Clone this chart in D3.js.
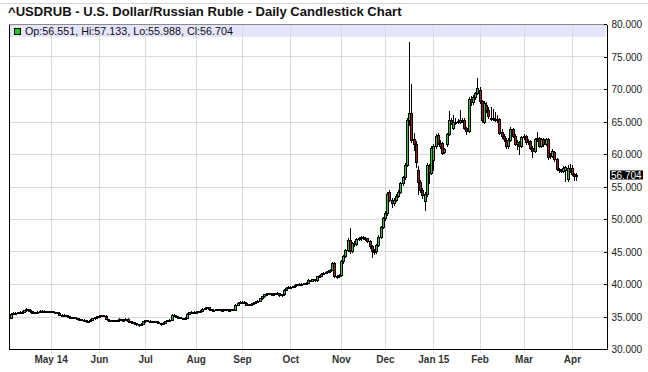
<!DOCTYPE html>
<html>
<head>
<meta charset="utf-8">
<script src="https://cdn.jsdelivr.net/npm/d3@7"></script>
<style>
  body { margin: 0; background: #fff; }
  #wrapper svg { display: block; font-family: "Liberation Sans", Arial, sans-serif; }
</style>
</head>
<body>
<div id="wrapper"></div>
<script>
// 1. Access data
const title = "^USDRUB - U.S. Dollar/Russian Ruble - Daily Candlestick Chart"
const firstDay = "2014-04-07"
const lastDay = "2015-04-03"
const holidays = ["2014-12-25", "2015-01-01"]

// one line per month: Apr 14 ... Apr 15
const opens = [
  34.80,35.45,35.50,35.55,35.62,35.70,35.76,35.95,36.10,35.90,35.62,35.66,35.60,35.75,35.88,35.92,35.80,35.74,
  35.80,35.78,35.70,35.62,35.60,35.30,35.25,35.18,35.10,35.00,34.92,34.85,34.78,34.66,34.60,34.50,34.42,34.30,34.28,34.52,34.72,34.90,
  35.02,35.12,35.20,35.14,34.62,34.45,34.40,34.42,34.38,34.40,34.62,34.50,34.45,34.65,34.25,34.20,34.10,33.95,33.80,33.70,33.90,
  34.25,34.40,34.35,34.30,34.28,34.30,34.22,34.00,33.90,34.05,34.30,34.40,34.50,35.25,35.10,34.95,34.90,34.78,34.75,34.82,35.45,35.62,35.70,
  35.72,35.75,35.80,35.90,36.20,36.35,36.40,36.10,36.00,36.05,36.10,36.08,36.02,36.05,36.10,36.06,36.02,36.08,36.05,36.80,37.15,
  37.25,37.30,37.10,36.80,36.90,37.00,37.10,37.25,37.40,37.80,38.10,38.40,38.50,38.55,38.45,38.50,38.55,38.60,38.30,38.40,39.10,39.45,
  39.50,39.55,39.62,39.90,39.95,40.05,40.00,40.12,40.20,40.60,40.50,40.75,40.55,41.20,41.25,41.60,41.70,41.85,42.00,42.20,43.20,41.30,41.20,
  41.40,43.50,44.30,45.20,46.80,45.00,46.30,46.20,46.90,47.00,47.20,47.10,47.00,46.60,45.80,45.10,45.00,46.00,47.30,48.80,
  50.10,50.90,54.10,53.00,52.40,53.00,53.60,54.20,55.50,56.40,58.30,65.20,66.30,62.30,61.60,57.60,55.70,54.40,52.70,53.90,58.10,57.10,
  59.10,61.20,62.90,61.70,61.70,60.30,61.50,63.10,65.30,64.00,65.00,64.90,65.00,65.30,65.30,64.00,63.60,68.50,68.00,68.70,69.40,
  69.80,68.10,65.00,67.60,66.80,65.60,65.50,65.40,65.30,65.40,63.40,62.70,62.10,61.20,62.20,63.80,62.80,61.60,61.80,61.30,
  62.60,62.70,61.80,62.00,61.00,60.50,62.30,62.40,61.30,62.30,61.55,62.30,59.90,59.70,60.30,59.20,57.70,57.50,57.40,57.60,56.10,57.90,
  57.90,56.90,56.551
]
const highs = [
  35.55,35.62,35.66,35.70,35.80,35.85,36.05,36.25,36.15,35.95,35.78,35.76,35.86,35.98,36.02,35.98,35.86,35.90,
  35.88,35.85,35.76,35.70,35.65,35.38,35.32,35.25,35.16,35.06,35.00,34.92,34.84,34.72,34.66,34.56,34.48,34.38,34.60,34.80,34.98,35.10,
  35.22,35.30,35.26,35.20,34.68,34.52,34.50,34.50,34.46,34.70,34.68,34.56,34.74,34.72,34.30,34.26,34.16,34.02,33.86,33.98,34.32,
  34.50,34.46,34.40,34.36,34.38,34.34,34.28,34.05,34.12,34.38,34.48,34.58,35.32,35.32,35.18,35.02,34.96,34.84,34.90,35.52,35.70,35.78,35.84,
  35.84,35.88,35.98,36.28,36.44,36.50,36.46,36.16,36.12,36.18,36.16,36.12,36.12,36.18,36.16,36.12,36.16,36.12,36.88,37.24,37.34,
  37.42,37.38,37.16,36.98,37.08,37.18,37.32,37.48,37.88,38.20,38.50,38.60,38.64,38.62,38.58,38.62,38.70,38.66,38.48,39.18,39.55,39.62,
  39.66,39.72,39.98,40.04,40.14,40.12,40.20,40.30,40.70,40.68,40.84,40.82,41.30,41.38,41.70,41.80,41.96,42.10,42.30,43.45,43.40,41.45,41.55,
  43.65,44.50,45.40,47.00,48.60,46.50,46.60,47.00,47.20,47.40,47.40,47.30,47.15,46.75,46.00,45.40,46.20,47.50,49.00,50.30,
  51.20,54.20,54.40,53.30,53.20,53.80,54.40,55.70,56.60,58.60,65.50,77.20,70.80,63.20,62.00,58.20,56.00,54.70,54.20,58.60,58.40,61.30,
  61.60,63.00,63.30,62.10,61.90,61.00,63.30,66.60,65.60,66.05,65.60,65.40,66.80,65.50,65.50,64.20,68.80,68.90,69.00,69.60,71.70,
  70.30,68.30,68.10,68.00,67.30,67.30,66.90,66.50,66.00,65.60,63.80,63.00,62.40,62.50,64.10,64.00,63.00,62.10,62.00,62.80,
  63.00,62.90,62.30,62.20,61.20,62.50,63.35,62.60,62.50,62.50,62.50,62.50,60.20,60.70,60.50,59.40,57.90,57.70,58.10,58.20,58.30,58.40,
  58.30,57.10,57.133
]
const lows = [
  34.70,35.38,35.42,35.48,35.55,35.62,35.68,35.88,35.85,35.55,35.55,35.52,35.55,35.68,35.78,35.72,35.66,35.68,
  35.70,35.64,35.55,35.52,35.24,35.18,35.10,35.02,34.92,34.86,34.78,34.70,34.58,34.52,34.42,34.34,34.22,34.18,34.24,34.46,34.66,34.84,
  34.95,35.05,35.06,34.55,34.38,34.33,34.34,34.30,34.32,34.34,34.44,34.38,34.40,34.18,34.12,34.04,33.88,33.72,33.60,33.66,33.84,
  34.18,34.28,34.24,34.20,34.18,34.14,33.95,33.62,33.84,34.00,34.24,34.34,34.44,35.02,34.88,34.84,34.70,34.66,34.70,34.76,35.38,35.56,35.62,
  35.66,35.70,35.74,35.86,36.14,36.28,36.04,35.94,35.96,36.00,36.02,35.96,35.98,36.00,36.00,35.96,35.98,35.98,36.00,36.74,37.08,
  37.18,37.04,36.72,36.74,36.84,36.92,37.04,37.18,37.34,37.72,38.02,38.32,38.42,38.38,38.38,38.42,38.48,38.22,38.22,38.34,39.02,39.38,
  39.42,39.48,39.56,39.82,39.88,39.92,39.94,40.04,40.14,40.40,40.44,40.48,40.50,41.10,41.18,41.52,41.62,41.78,41.92,42.12,41.10,41.00,41.10,
  41.25,43.30,44.10,45.10,44.70,44.90,45.90,46.00,46.70,46.80,46.90,46.80,46.40,45.60,44.20,44.60,44.80,45.80,47.10,48.60,
  49.90,50.60,52.80,51.90,52.20,52.80,53.40,54.00,55.30,56.20,58.10,64.50,61.80,60.60,58.00,53.90,54.10,53.30,51.40,53.60,55.50,56.90,
  57.60,61.00,61.50,61.00,60.00,60.10,61.30,62.90,64.60,63.80,64.60,64.70,64.80,64.90,63.90,63.00,63.40,67.60,67.70,68.40,69.20,
  67.90,65.00,64.80,66.50,65.60,65.30,65.20,65.10,65.00,63.00,62.40,62.00,60.90,61.00,62.00,62.60,61.40,60.80,60.00,61.10,
  62.30,61.60,61.50,60.80,59.50,60.30,62.00,61.10,61.10,61.30,61.40,59.30,59.40,59.50,59.00,57.50,57.30,57.20,57.20,55.90,55.90,57.30,
  56.80,56.00,55.988
]
const closes = [
  35.45,35.50,35.55,35.62,35.70,35.76,35.95,36.10,35.90,35.62,35.66,35.60,35.75,35.88,35.92,35.80,35.74,35.80,
  35.78,35.70,35.62,35.60,35.30,35.25,35.18,35.10,35.00,34.92,34.85,34.78,34.66,34.60,34.50,34.42,34.30,34.28,34.52,34.72,34.90,35.02,
  35.12,35.20,35.14,34.62,34.45,34.40,34.42,34.38,34.40,34.62,34.50,34.45,34.65,34.25,34.20,34.10,33.95,33.80,33.70,33.90,34.25,
  34.40,34.35,34.30,34.28,34.30,34.22,34.00,33.90,34.05,34.30,34.40,34.50,35.25,35.10,34.95,34.90,34.78,34.75,34.82,35.45,35.62,35.70,35.75,
  35.75,35.80,35.90,36.20,36.35,36.40,36.10,36.00,36.05,36.10,36.08,36.02,36.05,36.10,36.06,36.02,36.08,36.05,36.80,37.15,37.25,
  37.30,37.10,36.80,36.90,37.00,37.10,37.25,37.40,37.80,38.10,38.40,38.50,38.55,38.45,38.50,38.55,38.60,38.30,38.40,39.10,39.45,39.50,
  39.55,39.62,39.90,39.95,40.05,40.00,40.12,40.20,40.60,40.50,40.75,40.55,41.20,41.25,41.60,41.70,41.85,42.00,42.20,43.20,41.30,41.20,41.40,
  43.50,44.30,45.20,46.80,45.00,46.30,46.20,46.90,47.00,47.20,47.10,47.00,46.60,45.80,45.10,45.00,46.00,47.30,48.80,50.10,
  50.90,53.90,53.00,52.40,53.00,53.60,54.20,55.50,56.40,58.30,65.20,66.30,62.10,61.60,58.80,55.70,54.40,53.70,53.90,58.30,57.10,60.90,
  61.20,62.80,61.70,61.30,60.20,60.80,63.10,65.30,64.80,65.00,64.90,65.10,65.30,65.20,64.00,63.60,68.50,68.00,68.70,69.40,70.15,
  68.10,65.30,67.90,66.80,65.80,65.50,65.40,65.30,65.40,63.20,62.70,62.30,61.20,62.20,63.80,62.80,61.60,61.80,61.30,62.60,
  62.70,61.80,62.00,61.00,60.50,62.30,62.40,61.30,62.30,61.55,62.30,59.50,59.70,60.50,59.20,57.70,57.50,57.40,57.90,58.00,57.90,57.60,
  56.90,56.60,56.704
]

const yTicks = [30, 35, 40, 45, 50, 55, 60, 65, 70, 75, 80]
const tickDates = ["2014-05-01", "2014-06-02", "2014-07-01", "2014-08-01", "2014-09-01", "2014-10-01",
  "2014-11-03", "2014-12-01", "2015-01-02", "2015-02-02", "2015-03-02", "2015-04-01"]
const tickLabels = ["May 14", "Jun", "Jul", "Aug", "Sep", "Oct", "Nov", "Dec", "Jan 15", "Feb", "Mar", "Apr"]

// trading calendar: weekdays minus the two days with no quotes
const parseDay = d3.utcParse("%Y-%m-%d")
const formatDay = d3.utcFormat("%Y-%m-%d")
const tradingDays = d3.utcDay
  .range(parseDay(firstDay), d3.utcDay.offset(parseDay(lastDay), 1))
  .filter(d => d.getUTCDay() !== 0 && d.getUTCDay() !== 6)
  .filter(d => !holidays.includes(formatDay(d)))

const dataset = closes.map((c, i) => ({
  i,
  date: tradingDays[i],
  open: opens[i],
  high: highs[i],
  low: lows[i],
  close: c,
}))

const xAccessor = d => d.i
const upColor = "#33c433"
const downColor = "#9a1c1c"

// 2. Create chart dimensions
let dimensions = {
  width: 648,
  height: 372,
  plot: { left: 9, right: 606, top: 24, bottom: 349 },
}

// 3. Draw canvas
const wrapper = d3.select("#wrapper")
  .append("svg")
  .attr("width", dimensions.width)
  .attr("height", dimensions.height)

wrapper.append("rect")
  .attr("width", dimensions.width)
  .attr("height", dimensions.height)
  .attr("fill", "#fff")

wrapper.append("line")
  .attr("x1", 0).attr("x2", dimensions.width)
  .attr("y1", 3.5).attr("y2", 3.5)
  .attr("stroke", "#d4d4d4")

// 4. Create scales
const p = dimensions.plot
const xScale = d3.scaleLinear()
  .domain([-0.9, 270.5])
  .range([p.left, p.right])

const yScale = d3.scaleLinear()
  .domain([30, 80])
  .range([p.bottom, p.top])

const tickIndex = tickDates.map(t => tradingDays.findIndex(d => formatDay(d) === t))

// 5. Draw peripherals (background part)
wrapper.append("rect")
  .attr("x", p.left)
  .attr("y", p.top)
  .attr("width", p.right - p.left)
  .attr("height", 13)
  .attr("fill", "#e4e4fb")

const grid = wrapper.append("g")
  .attr("stroke", "#dadada")
  .attr("shape-rendering", "crispEdges")

grid.selectAll("line.h")
  .data(yTicks.filter(v => v > 30 && v < 80))
  .join("line")
  .attr("x1", p.left).attr("x2", p.right)
  .attr("y1", d => Math.round(yScale(d)) + 0.5)
  .attr("y2", d => Math.round(yScale(d)) + 0.5)

grid.selectAll("line.v")
  .data(tickIndex)
  .join("line")
  .attr("x1", d => Math.round(xScale(d)) + 0.5)
  .attr("x2", d => Math.round(xScale(d)) + 0.5)
  .attr("y1", p.top)
  .attr("y2", p.bottom + 4)

// 6. Draw data
const candles = wrapper.append("g")
  .attr("shape-rendering", "crispEdges")
  .selectAll("g")
  .data(dataset)
  .join("g")

const cx = d => Math.round(xScale(xAccessor(d)))

candles.append("line")
  .attr("x1", d => cx(d) + 0.5)
  .attr("x2", d => cx(d) + 0.5)
  .attr("y1", d => Math.round(yScale(d.high)))
  .attr("y2", d => Math.round(yScale(d.low)) + 1)
  .attr("stroke", "#000")

candles.append("rect")
  .attr("x", d => cx(d) - 0.5)
  .attr("y", d => Math.round(yScale(Math.max(d.open, d.close))) + 0.5)
  .attr("width", 2)
  .attr("height", d => Math.max(1,
    Math.round(yScale(Math.min(d.open, d.close))) - Math.round(yScale(Math.max(d.open, d.close)))))
  .attr("fill", d => d.close >= d.open ? upColor : downColor)
  .attr("stroke", "#000")

// 7. Frame, axes and texts
const frame = wrapper.append("g")
  .attr("stroke", "#000")
  .attr("shape-rendering", "crispEdges")
frame.append("line")
  .attr("x1", p.left + 0.5).attr("x2", p.left + 0.5)
  .attr("y1", p.top).attr("y2", p.bottom + 1)
frame.append("line")
  .attr("x1", p.left).attr("x2", p.right)
  .attr("y1", p.bottom + 0.5).attr("y2", p.bottom + 0.5)
frame.append("line")
  .attr("x1", p.left).attr("x2", p.right)
  .attr("y1", p.top + 0.5).attr("y2", p.top + 0.5)
  .attr("stroke", "#8a8a8a")

const yAxisGenerator = d3.axisRight(yScale)
  .tickValues(yTicks)
  .tickSizeInner(-3)
  .tickSizeOuter(0)
  .tickPadding(5)
  .tickFormat(d3.format(".3f"))

const yAxis = wrapper.append("g")
  .attr("transform", `translate(${p.right + 0.5},0)`)
  .call(yAxisGenerator)
yAxis.selectAll("path, line").attr("stroke", "#000").attr("shape-rendering", "crispEdges")
yAxis.selectAll("text")
  .attr("fill", "#222")
  .style("font-size", "10px")
  .attr("dy", "0.36em")

const xAxisGenerator = d3.axisBottom(xScale)
  .tickValues(tickIndex)
  .tickFormat((d, i) => tickLabels[i])
  .tickSize(0)
  .tickPadding(7)

const xAxis = wrapper.append("g")
  .attr("transform", `translate(0,${p.bottom})`)
  .call(xAxisGenerator)
xAxis.select(".domain").remove()
xAxis.selectAll("text")
  .attr("fill", "#333")
  .style("font-size", "10px")
  .style("font-weight", "bold")

// last price marker
const last = dataset[dataset.length - 1]
const lastY = Math.round(yScale(last.close))
const lastLabel = wrapper.append("text")
  .attr("x", p.right + 5)
  .attr("y", lastY + 3.5)
  .attr("fill", "#fff")
  .style("font-size", "10px")
  .text(d3.format(".3f")(last.close))
const lastWidth = lastLabel.node().getComputedTextLength()
wrapper.insert("rect", () => lastLabel.node())
  .attr("x", p.right + 4)
  .attr("y", lastY - 4.5)
  .attr("width", Math.ceil(lastWidth) + 2)
  .attr("height", 9)
  .attr("fill", "#000")

// title and OHLC legend
const titleText = wrapper.append("text")
  .attr("x", 8)
  .attr("y", 16)
  .attr("fill", "#111")
  .style("font-size", "12px")
  .style("font-weight", "bold")
  .text(title)
const titleWidth = titleText.node().getComputedTextLength()
titleText.style("font-size", `${12 * 394 / titleWidth}px`)

wrapper.append("rect")
  .attr("x", 14.5).attr("y", 28.5)
  .attr("width", 6).attr("height", 6)
  .attr("fill", "#11cc11")
  .attr("stroke", "#000")

const f3 = d3.format(".3f")
const legendText = wrapper.append("text")
  .attr("x", 25)
  .attr("y", 35)
  .attr("fill", "#111")
  .style("font-size", "11px")
  .text(`Op:${f3(last.open)}, Hi:${f3(last.high)}, Lo:${f3(last.low)}, Cl:${f3(last.close)}`)
const legendWidth = legendText.node().getComputedTextLength()
legendText.style("font-size", `${11 * 208 / legendWidth}px`)
</script>
</body>
</html>
